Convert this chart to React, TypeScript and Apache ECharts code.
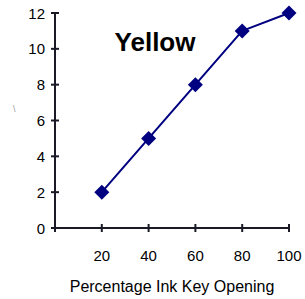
import React, { useEffect, useRef } from "react";
import * as echarts from "echarts";

const xValues = [20, 40, 60, 80, 100];
const yValues = [2, 5, 8, 11, 12];
const xTicks = [0, 20, 40, 60, 80, 100];
const yTicks = [0, 2, 4, 6, 8, 10, 12];
const titleText = "Yellow";
const xAxisName = "Percentage Ink Key Opening";
const yAxisMark = "\\";

const INK = "#1a1a26";

export default function App() {
  const ref = useRef<HTMLDivElement>(null);
  useEffect(() => {
    const chart = echarts.init(ref.current!, null, { renderer: "svg" });
    const font = "'Liberation Sans', Arial, sans-serif";
    const markText = {
      id: "ymark",
      type: "text",
      left: 13,
      top: 104,
      style: { text: yAxisMark, fontFamily: font, fontSize: 9, fill: "#999" },
    };
    chart.setOption({
      animation: false,
      title: {
        text: titleText,
        left: 150,
        top: 24,
        textAlign: "center",
        textStyle: { fontFamily: font, fontSize: 26, fontWeight: "bold", color: "#000" },
      },
      grid: { left: 55, right: 16, top: 13, bottom: 70 },
      xAxis: {
        type: "value",
        min: 0,
        max: 100,
        interval: 20,
        axisLine: { show: false },
        axisTick: { show: false },
        splitLine: { show: false },
        axisLabel: {
          fontFamily: font,
          fontSize: 15,
          color: "#000",
          margin: 20,
          formatter: (v: number) => (v === 0 ? "" : String(v)),
        },
        name: xAxisName,
        nameLocation: "middle",
        nameGap: 50,
        nameTextStyle: { fontFamily: font, fontSize: 16, color: "#000" },
      },
      yAxis: {
        type: "value",
        min: 0,
        max: 12,
        interval: 2,
        axisLine: { show: false },
        axisTick: { show: false },
        splitLine: { show: false },
        axisLabel: { fontFamily: font, fontSize: 15, color: "#000", margin: 10 },
      },
      graphic: [markText],
      series: [
        {
          type: "line",
          clip: false,
          data: xValues.map((x, i) => [x, yValues[i]]),
          symbol: "diamond",
          symbolSize: 15,
          lineStyle: { color: "#000080", width: 2 },
          itemStyle: { color: "#000080" },
          z: 3,
        },
      ],
    });

    const finder = { xAxisIndex: 0, yAxisIndex: 0 };
    const origin = chart.convertToPixel(finder, [xTicks[0], yTicks[0]]) as number[];
    const corner = chart.convertToPixel(
      finder,
      [xTicks[xTicks.length - 1], yTicks[yTicks.length - 1]]
    ) as number[];
    const rects: any[] = [];
    const addRect = (id: string, x: number, y: number, w: number, h: number) =>
      rects.push({
        id,
        type: "rect",
        z: 2,
        silent: true,
        shape: { x, y, width: w, height: h },
        style: { fill: INK },
      });
    addRect("xline", origin[0] - 1, origin[1] - 1, corner[0] - origin[0] + 2, 2);
    addRect("yline", origin[0] - 1, corner[1] - 1, 2, origin[1] - corner[1] + 2);
    xTicks.forEach((v, i) => {
      const p = chart.convertToPixel(finder, [v, yTicks[0]]) as number[];
      addRect("xt" + i, p[0] - 1, p[1] - 4, 2, 8);
    });
    yTicks.forEach((v, i) => {
      const p = chart.convertToPixel(finder, [xTicks[0], v]) as number[];
      addRect("yt" + i, p[0] - 4, p[1] - 1, 8, 2);
    });
    chart.setOption({ graphic: [markText, ...rects] });

    return () => chart.dispose();
  }, []);
  return <div ref={ref} style={{ width: 305, height: 299, position: "absolute", left: 0, top: 0 }} />;
}
